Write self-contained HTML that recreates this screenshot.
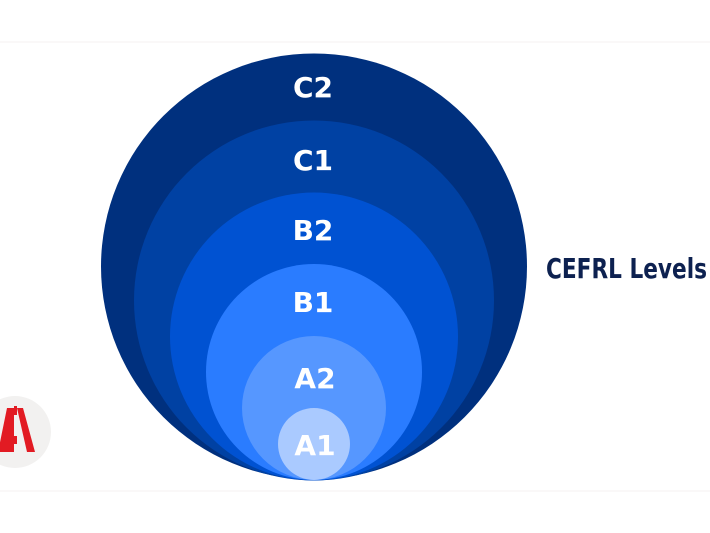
<!DOCTYPE html>
<html><head><meta charset="utf-8"><style>
html,body{margin:0;padding:0;background:#fff;width:710px;height:533px;overflow:hidden}
</style></head><body>
<svg width="710" height="533" viewBox="0 0 710 533" xmlns="http://www.w3.org/2000/svg">
<rect width="710" height="533" fill="#fff"/>
<line x1="0" y1="42" x2="710" y2="42" stroke="#f4f0f0" stroke-width="1"/>
<line x1="0" y1="491" x2="710" y2="491" stroke="#f4f0f0" stroke-width="1"/>
<circle cx="314" cy="266.5" r="213" fill="#00307e"/>
<circle cx="314" cy="300.5" r="180" fill="#0041a3"/>
<circle cx="314" cy="336.5" r="144" fill="#0052d2"/>
<circle cx="314" cy="372" r="108" fill="#2a7cff"/>
<circle cx="314" cy="408" r="72" fill="#5697ff"/>
<circle cx="314" cy="444" r="36" fill="#aacaff"/>
<g font-family="'DejaVu Sans','Liberation Sans',sans-serif" font-weight="bold" font-size="28" fill="#fff" text-anchor="middle">
<text x="313" y="97">C2</text>
<text x="313" y="170">C1</text>
<text x="313" y="240">B2</text>
<text x="313" y="312">B1</text>
<text x="315" y="388">A2</text>
<text x="315" y="455">A1</text>
</g>
<text x="546" y="278" font-family="'DejaVu Sans Condensed','DejaVu Sans',sans-serif" font-weight="bold" font-size="28" fill="#0d2150" textLength="161" lengthAdjust="spacingAndGlyphs">CEFRL Levels</text>
<circle cx="15" cy="432" r="36" fill="#f2f1f0"/>
<g fill="#e21b23">
<polygon points="-2,452 7,408 14,408 14,452"/>
<polygon points="17,408 23,408 35,452 27,452"/>
<rect x="14" y="406" width="3" height="9"/>
<rect x="14" y="436" width="3" height="8"/>
</g>
</svg>
</body></html>
